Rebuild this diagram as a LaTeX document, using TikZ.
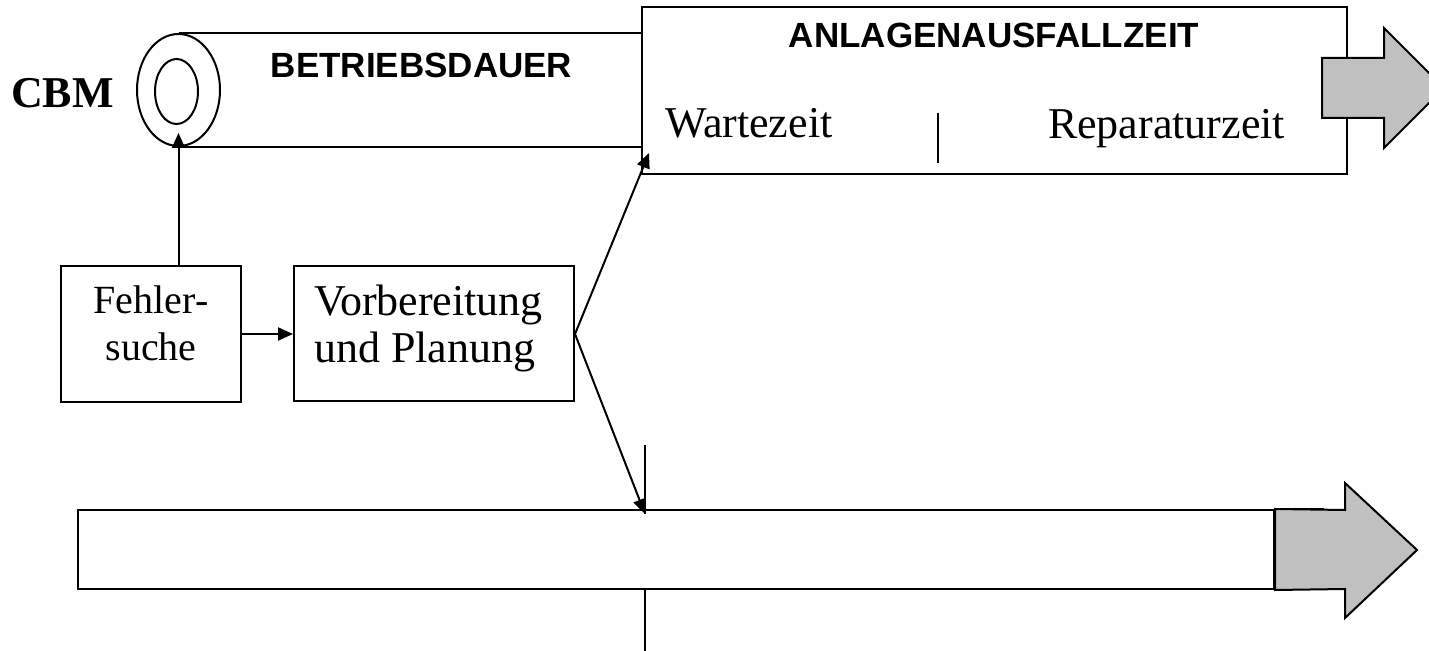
\documentclass[tikz,border=0pt]{standalone}
\usepackage{fontspec}
\setmainfont{Liberation Serif}
\newfontfamily\headfont{Liberation Sans}
\usepackage{tikz}
\usetikzlibrary{calc, positioning, shapes.geometric, arrows.meta}
\usepackage{xcolor}
\definecolor{arrowgrey}{RGB}{192,192,192}

\begin{document}
\begin{tikzpicture}[x=0.5pt, y=-0.5pt, line width=1pt, >={Triangle[length=7.5pt,width=6.5pt]},
  box/.style={draw, rectangle, inner sep=0pt},
  ring/.style={draw, ellipse, inner sep=0pt},
  serif/.style={inner sep=0pt, font=\fontsize{22}{23.5}\selectfont},
  headtext/.style={inner sep=0pt, font=\headfont\bfseries\fontsize{17.5}{20}\selectfont},
  greyarrow/.style={draw, fill=arrowgrey, line join=miter}]
\useasboundingbox (0,0) rectangle (1429,651);
\clip (0,0) rectangle (1429,651);
\node[serif, font=\bfseries\fontsize{22}{23.5}\selectfont, anchor=base] (cbm) at (62.5,108) {CBM};
\node[box, minimum width=352.5pt, minimum height=83.5pt] (ausfall) at (994.5,90.5) {};
\node[ring, minimum width=41.5pt, minimum height=56pt] (cbmring) at (178.5,90) {};
\node[ring, minimum width=21.5pt, minimum height=32.5pt] (cbmcore) at (176.5,91.5) {};
\draw (cbmring.north) -- (cbmring.north -| ausfall.west);
\draw (cbmring.south) -- (cbmring.south -| ausfall.west);
\node[headtext, anchor=base] (betrieb) at (421.5,78) {BETRIEBSDAUER};
\node[headtext, anchor=base] (ausfalltitle) at (994,48) {ANLAGENAUSFALLZEIT};
\node[serif, anchor=base west] (warte) at (664,138) {Wartezeit};
\node[serif, anchor=base west] (repar) at (1047,139) {Reparaturzeit};
\draw (938,113) -- (938,163);
\draw[greyarrow] (1322,58) -- (1384,58) -- (1384,28) -- (1444,88) -- (1384,148) -- (1384,118) -- (1322,118) -- cycle;
\node[box, minimum width=90pt, minimum height=68pt] (fehler) at (151,334) {};
\node[serif, font=\fontsize{20}{23.5}\selectfont, align=center, anchor=north] (fehlertext) at ([yshift=-10pt]fehler.north) {Fehler-\\suche};
\node[box, minimum width=140pt, minimum height=67.5pt, right=25.5pt of fehler] (vorber) {};
\node[serif, align=left, anchor=north west] (vorbertext) at ([xshift=10pt,yshift=-9pt]vorber.north west) {Vorbereitung\\und Planung};
\draw[->] (fehler) -- (vorber);
\draw[->] (fehler.north -| cbmring.south) -- ([yshift=7pt]cbmring.south);
\node[box, minimum width=598pt, minimum height=39.5pt] (timeline) at (676,549.5) {};
\draw[greyarrow] (timeline.north east) -- (1345,510) -- (1345,483) -- (1417,550) -- (1345,618) -- (1345,589) -- (timeline.south east) -- cycle;
\draw (timeline.north east) -- ++(49,0);
\coordinate (waitin) at ([xshift=4pt,yshift=11pt]ausfall.south west);
\coordinate (tick) at (645,445);
\coordinate (tickend) at ([yshift=-2.5pt]tick |- timeline.north);
\draw (tick) -- (tickend);
\draw[->] (vorber.east) -- (waitin);
\draw[->] (vorber.east) -- (tickend);
\draw (tick |- timeline.south) -- ++(0,61);
\end{tikzpicture}
\end{document}
